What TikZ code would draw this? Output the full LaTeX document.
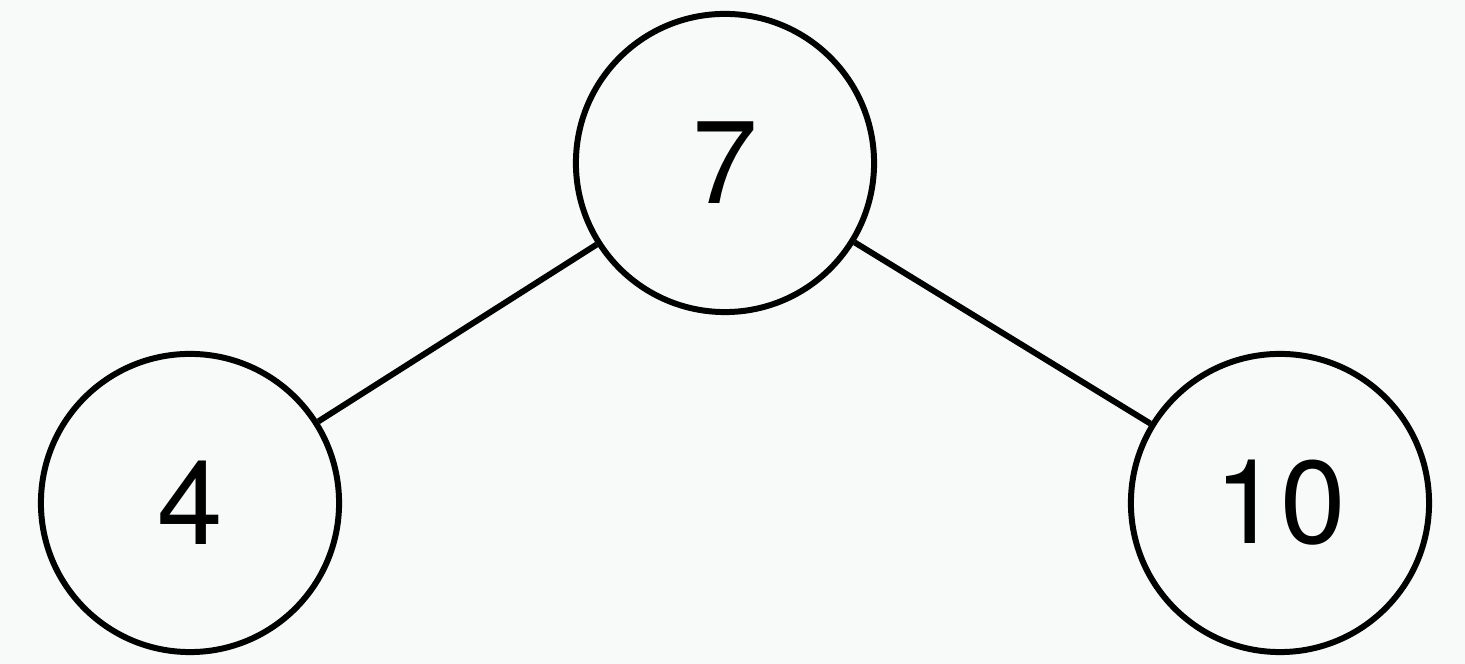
\documentclass[tikz,border=0pt]{standalone}
\usepackage{fontspec}
\setmainfont{TeX Gyre Heros}
\usepackage{tikz}
\usetikzlibrary{calc}
\definecolor{paper}{RGB}{248,250,250}

\begin{document}
\begin{tikzpicture}[x=0.01cm, y=0.01cm,
        key/.style={circle, draw=black, line width=1.7pt, minimum size=2.98cm, inner sep=0pt,
            font=\fontsize{33.5}{36}\selectfont},
        link/.style={line width=1.7pt, black}]
            \fill[paper] (0,0) rectangle (1465,664);
            \useasboundingbox (0,0) rectangle (1465,664);
            \node[key] (root) at (725,501) {7};
            \node[key] (lo) at (190,161) {4};
            \node[key] (hi) at (1280,161) {10};
            \draw[link] (root) -- (lo);
            \draw[link] (root) -- (hi);
        \end{tikzpicture}
\end{document}
